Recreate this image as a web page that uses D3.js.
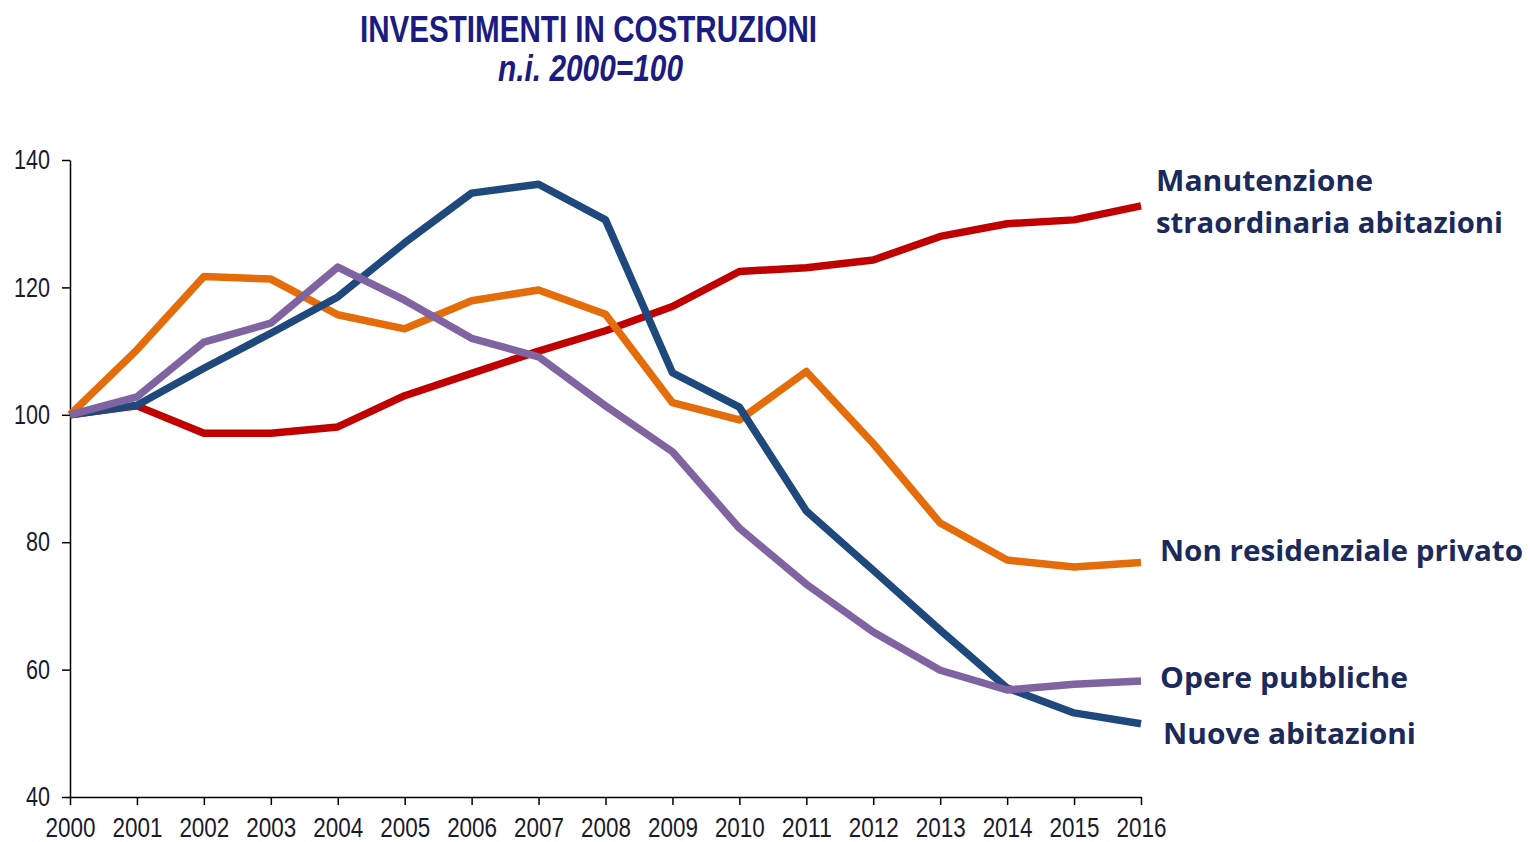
<html>
<head>
<title>Investimenti in costruzioni</title>
<style type="text/css">
    body{ margin:0px; padding:0px; background:#fff; }
    svg{ width:1530px; height:842px; display:block; }
    .tick text{ font-family:"Liberation Sans",sans-serif; font-size:27px; fill:#1a1a2e; }
    .domain, .tick line{ stroke:#000; stroke-width:1.5px; }
    .serie{ fill:none; stroke-width:7.5px; stroke-linejoin:round; }
    .etichetta{ font-family:"Open Sans","DejaVu Sans",sans-serif; font-weight:700; font-size:28px; fill:#1b2a5a; }
</style>
<script src="https://d3js.org/d3.v7.min.js"></script>
</head>
<body>
<script type="text/javascript">
// dati (n.i. 2000=100)
var anni = [2000,2001,2002,2003,2004,2005,2006,2007,2008,2009,2010,2011,2012,2013,2014,2015,2016];
var manutenzione = [100,101.4,97.1,97.1,98.1,103,106.5,110,113.2,117,122.5,123.1,124.3,128,130,130.6,132.8];
var nonResidenziale = [100,110.2,121.7,121.3,115.7,113.5,117.9,119.6,115.8,101.9,99.2,106.8,95.5,83,77.2,76.1,76.8];
var nuoveAbitazioni = [100,101.5,107.3,112.8,118.5,127,134.8,136.2,130.6,106.6,101.2,84.9,75.6,66.2,57.1,53.2,51.5];
var operePubbliche = [100,102.8,111.4,114.4,123.2,118,112,109.1,101.4,94.2,82.2,73.4,65.9,59.9,56.8,57.7,58.2];
var yTicks = [40,60,80,100,120,140];

var serie = [
    {valori:manutenzione, colore:"#c00000", righe:["Manutenzione","straordinaria abitazioni"], larghezze:[217,347], lx:1156, ly:191},
    {valori:nonResidenziale, colore:"#e46c0a", righe:["Non residenziale privato"], larghezze:[363], lx:1160, ly:561},
    {valori:operePubbliche, colore:"#8064a2", righe:["Opere pubbliche"], larghezze:[248], lx:1160, ly:688},
    {valori:nuoveAbitazioni, colore:"#1f497d", righe:["Nuove abitazioni"], larghezze:[253], lx:1163, ly:744}
];

svg = d3.select("body").append("svg").attr("width",1530).attr("height",842);

// titolo
svg.append("text").text("INVESTIMENTI IN COSTRUZIONI")
    .attr("x",360).attr("y",42)
    .attr("textLength",457).attr("lengthAdjust","spacingAndGlyphs")
    .style("font-family","'Liberation Sans',sans-serif")
    .style("font-weight","700").style("font-size","37px").style("fill","#1c1c80");
svg.append("text").text("n.i. 2000=100")
    .attr("x",498).attr("y",81)
    .attr("textLength",185).attr("lengthAdjust","spacingAndGlyphs")
    .style("font-family","'Liberation Sans',sans-serif")
    .style("font-weight","700").style("font-style","italic").style("font-size","36px").style("fill","#1c1c80");

x = d3.scaleLinear().domain([2000,2016]).range([70,1141]);
y = d3.scaleLinear().domain([40,140]).range([797,160]);

var asseX = svg.append("g").attr("transform","translate(0,797)")
    .call(d3.axisBottom(x).tickValues(anni).tickFormat(d3.format("d")).tickSize(8).tickSizeOuter(0).tickPadding(13));
asseX.selectAll(".tick text").attr("textLength",50).attr("lengthAdjust","spacingAndGlyphs");

var asseY = svg.append("g").attr("transform","translate(70,0)")
    .call(d3.axisLeft(y).tickValues(yTicks).tickSize(8).tickSizeOuter(0).tickPadding(12));
asseY.selectAll(".tick text").attr("textLength",function(d){ return d>=100 ? 36 : 24; }).attr("lengthAdjust","spacingAndGlyphs");

var linea = d3.line().x(function(d,i){ return x(anni[i]); }).y(function(d){ return y(d); });

// ordine di disegno: rosso sotto, poi arancio, blu, viola
[serie[0],serie[1],serie[3],serie[2]].forEach(function(s){
    svg.append("path").attr("class","serie").attr("d",linea(s.valori)).style("stroke",s.colore);
});

serie.forEach(function(s){
    s.righe.forEach(function(r,j){
        svg.append("text").attr("class","etichetta").attr("x",s.lx).attr("y",s.ly+j*42)
            .attr("textLength",s.larghezze[j]).attr("lengthAdjust","spacingAndGlyphs").text(r);
    });
});
</script>
</body>
</html>
